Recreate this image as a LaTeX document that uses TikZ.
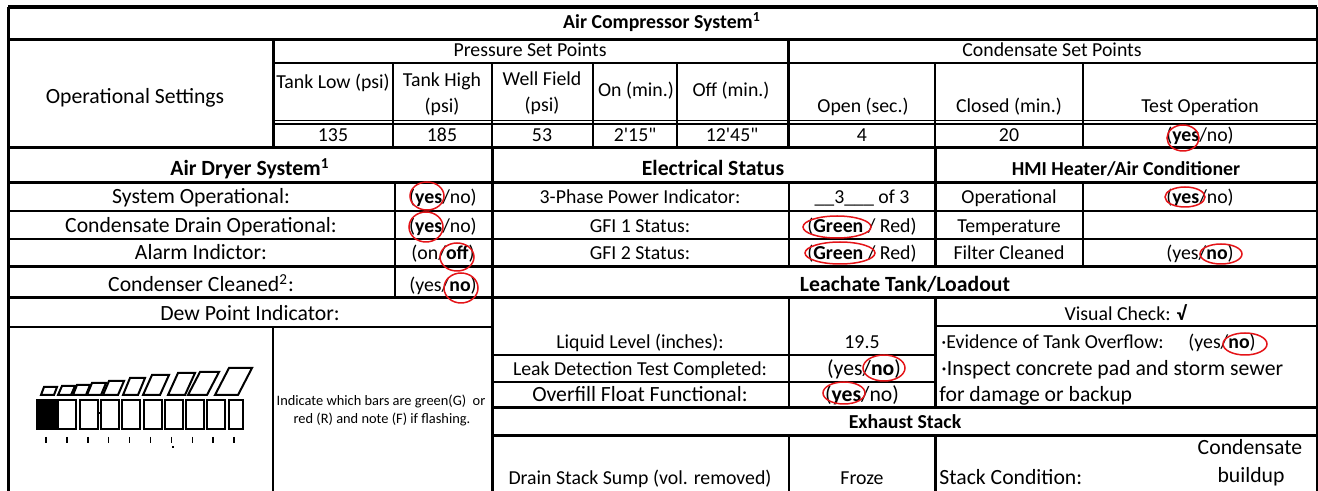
\documentclass[tikz,border=0pt]{standalone}
\usepackage{fontspec}
\setmainfont{Carlito}
\usepackage{tikz}
\definecolor{markred}{RGB}{228,20,24}
\newcommand\smalltxt{\fontsize{9.9}{12}\selectfont}
\newcommand\largetxt{\fontsize{10.85}{13}\selectfont}
\newcommand\tinytxt{\fontsize{7.2}{9}\selectfont}
\newcommand\ynyes{(\textbf{yes}/no)}
\newcommand\ynno{(yes/\textbf{no})}

\begin{document}
\begin{tikzpicture}[x=0.5pt,y=-0.5pt,
    every node/.style={inner sep=0pt,anchor=base,font=\smalltxt},
    big/.style={font=\largetxt},
    heavy/.style={line width=1.5pt},
    fine/.style={line width=0.65pt},
    circled/.style={draw=markred,line width=0.75pt},
    bar/.style={line width=1pt}]
  \useasboundingbox (0,0) rectangle (1318,491);
  % table rules
  \draw[line width=2pt] (8,7) -- (1317,7);
  \foreach \y/\a/\b in {40/8/1317,148/8/1317,183/8/1317,267/8/1317,298/8/1317,408/492/1317,436/492/1317}
    \draw[heavy] (\a,\y) -- (\b,\y);
  \foreach \x/\a/\b in {8/7/491,1317/7/491,273/40/148,788/40/148,492/148/491,935/148/267,935/298/408,935/436/491}
    \draw[heavy] (\x,\a) -- (\x,\b);
  \foreach \y/\a/\b in {63/273/1317,120.5/273/1317,124/273/1317,211/8/1317,239/8/1317,327/8/492,326/935/1317,355/492/935,382/492/935}
    \draw[fine] (\a,\y) -- (\b,\y);
  \foreach \x/\a/\b in {393/63/148,492/63/148,593/63/148,677/63/148,935/63/148,1083/63/148,395/183/298,789/183/267,1083/183/267,273/327/491,789/298/408,789/436/491}
    \draw[fine] (\x,\a) -- (\x,\b);

  % air compressor
  \node (title) at (662,29) {\textbf{Air Compressor System\textsuperscript{1}}};
  \node (press) at (530,57) {Pressure Set Points};
  \node (conds) at (1052,57) {Condensate Set Points};
  \node[big] (opset) at (135,104) {Operational Settings};
  \node (tlow) at (333,89) {Tank Low (psi)};
  \node (thigh) at (442,87) {Tank High};
  \node (thighu) at (442,113) {(psi)};
  \node (well) at (542,86) {Well Field};
  \node (wellu) at (542,112) {(psi)};
  \node (on) at (636,97) {On (min.)};
  \node (off) at (731,97) {Off (min.)};
  \node (open) at (863,113) {Open (sec.)};
  \node (closed) at (1009,113) {Closed (min.)};
  \node (test) at (1200,113) {Test Operation};
  \node (vlow) at (333,142) {135};
  \node (vhigh) at (442,142) {185};
  \node (vwell) at (542,142) {53};
  \node (von) at (635,142) {2\textquotesingle 15\textquotedbl};
  \node (voff) at (732,142) {12\textquotesingle 45\textquotedbl};
  \node (vopen) at (862,142) {4};
  \node (vclosed) at (1009,142) {20};
  \node (vtest) at (1200,142) {\ynyes};

  % air dryer
  \node[big] (dryer) at (250,176) {\textbf{Air Dryer System\textsuperscript{1}}};
  \node[big] (sysop) at (201,204) {System Operational:};
  \node[big] (drain) at (201,233) {Condensate Drain Operational:};
  \node[big] (alarm) at (201,260) {Alarm Indictor:};
  \node[big] (cleaned) at (201,292) {Condenser Cleaned\textsuperscript{2}:};
  \node (vsysop) at (443,204) {\ynyes};
  \node (vdrain) at (443,233) {\ynyes};
  \node (valarm) at (443,260) {(on/\textbf{off})};
  \node (vcleaned) at (443,292) {\ynno};

  % electrical
  \node[big] (elec) at (713,176) {\textbf{Electrical Status}};
  \node (phase) at (640,204) {3-Phase Power Indicator:};
  \node (gfia) at (640,233) {GFI 1 Status:};
  \node (gfib) at (640,260) {GFI 2 Status:};
  \node (vphase) at (862,204) {\_\_3\_\_\_ of 3};
  \node (vgfia) at (862,233) {(\textbf{Green} / Red)};
  \node (vgfib) at (862,260) {(\textbf{Green} / Red)};

  % hmi
  \node (hmi) at (1126,176) {\textbf{HMI Heater/Air Conditioner}};
  \node (hop) at (1009,204) {Operational};
  \node (htemp) at (1009,233) {Temperature};
  \node (hfilt) at (1009,260) {Filter Cleaned};
  \node (vhop) at (1200,204) {\ynyes};
  \node (vhfilt) at (1200,260) {\ynno};

  % dew point
  \node[big] (dew) at (250,321) {Dew Point Indicator:};
  \node[font=\tinytxt] (hinta) at (381,406) {Indicate which bars are green(G)\ \ or};
  \node[font=\tinytxt] (hintb) at (382,424) {red (R) and note (F) if flashing.};
  \filldraw[bar] (37,400) rectangle ++(19,29);
  \foreach \i [evaluate={\bx=37+21.3*\i; \bw=ifthenelse(\i==9,14,18);}] in {1,...,9}
    \draw[bar] (\bx,400) rectangle ++(\bw,29);
  \draw[bar] (99,413) -- (102,413);
  \foreach \px/\pw/\ph/\ps in {41/13/8/3,58/13/9/4,73/13/10/4,87/14/12/5,103/15/14/6,123/15/17/7,143/17/20/9,168/17/22/10,188/19/23/12,215/23/27/14}
    \draw[bar] (\px,395) -- ++(\pw,0) -- ++(\ps,-\ph) -- ++(-\pw,0) -- cycle;
  \foreach \i [evaluate={\tx=46+20.9*\i;}] in {0,...,9}
    \draw[line width=0.75pt] (\tx,437) -- (\tx,443);
  \fill (172,446) rectangle (174,448);

  % leachate
  \node[big] (leach) at (905,292) {\textbf{Leachate Tank/Loadout}};
  \node (level) at (640,349) {Liquid Level (inches):};
  \node (leak) at (640,376) {Leak Detection Test Completed:};
  \node[big] (float) at (640,402) {Overfill Float Functional:};
  \node (vlevel) at (862,349) {19.5};
  \node[big] (vleak) at (864,376) {\ynno};
  \node[big] (vfloat) at (862,402) {\ynyes};
  \node (visual) at (1126,321) {Visual Check: \textbf{√}};
  \node[anchor=base west] (overflow) at (941,349) {·Evidence of Tank Overflow:};
  \node[anchor=base west] (voverflow) at (1188,349) {\ynno};
  \node[big,anchor=base west] (inspa) at (941,376) {·Inspect concrete pad and storm sewer};
  \node[big,anchor=base west] (inspb) at (939,402) {for damage or backup};

  % exhaust stack
  \node (exhaust) at (905,429) {\textbf{Exhaust Stack}};
  \node (sump) at (640,485) {Drain Stack Sump (vol. removed)};
  \node (vsump) at (862,485) {Froze};
  \node[big,anchor=base west] (stack) at (939,485) {Stack Condition:};
  \node[big] (vstacka) at (1250,455) {Condensate};
  \node[big] (vstackb) at (1251,483) {buildup};

  % red marks
  \foreach \ex/\ey/\rx/\ry in {1183/138/16/13,427/196/17/14,426/227/17/15,457/257/17/14,461/288/17/15,837/227/34/11,840/253/35/11,1185/197/20/10,1221/254/21/10,884/368/21/13,844/393/21/11,1245/344/22/11}
    \draw[circled] (\ex,\ey) ellipse [x radius=\rx, y radius=\ry];
\end{tikzpicture}
\end{document}
